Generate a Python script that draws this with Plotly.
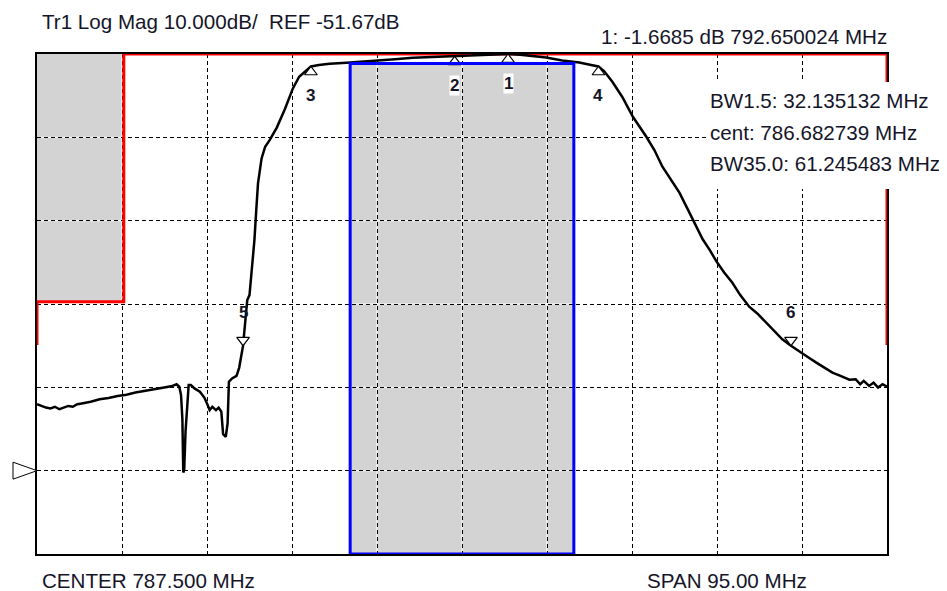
import plotly.graph_objects as go

# ---------------- instrument settings ----------------
center_mhz = 787.5
span_mhz = 95.0
ref_db = -51.67
scale_db = 10.0
n_xdiv = 10
n_ydiv = 6
ref_pos_div = 1  # reference level sits one division above the bottom

# ---------------- measured trace ----------------
freq_mhz = [
    740.0, 740.5, 741.0, 741.5, 742.0, 742.5, 743.0, 743.5, 744.0, 744.5,
    745.0, 746.0, 747.0, 748.0, 749.0, 750.0, 751.0, 752.0, 753.0, 754.0,
    755.0, 755.6, 755.9, 756.1, 756.25, 756.35, 756.45, 756.6, 756.8, 756.95,
    757.2, 757.6, 758.2, 758.7, 759.0, 759.3, 759.6, 760.0, 760.3, 760.6,
    760.8, 761.1, 761.3, 761.45, 761.8, 762.3, 762.6, 762.85, 763.03, 763.3,
    763.5, 763.75, 764.0, 764.3, 764.5, 764.7, 765.1, 765.5, 766.0, 766.8,
    767.7, 768.6, 769.3, 770.0, 770.615, 771.5, 772.7, 774.6, 776.5, 778.3,
    780.0, 782.0, 784.0, 785.8, 788.0, 790.0, 792.65, 794.0, 795.4, 796.9,
    798.7, 800.6, 801.8, 802.75, 803.4, 804.3, 805.4, 806.6, 808.1, 809.0,
    809.9, 810.8, 811.8, 812.5, 813.3, 814.4, 815.2, 815.9, 816.8, 817.7,
    818.6, 819.6, 820.5, 821.5, 822.4, 823.3, 824.27, 825.2, 826.1, 827.1,
    828.0, 828.9, 829.8, 830.8, 831.5, 832.0, 832.4, 833.0, 833.5, 834.0,
    834.5, 835.0,
]
mag_db = [
    -43.7, -43.9, -44.1, -44.2, -44.0, -44.3, -44.1, -43.9, -44.0, -43.7,
    -43.6, -43.4, -43.1, -42.95, -42.7, -42.55, -42.3, -42.1, -41.9, -41.75,
    -41.55, -41.3, -41.6, -42.6, -45.5, -51.9, -51.6, -47.0, -44.0, -41.4,
    -41.4, -41.8, -42.2, -42.9, -43.6, -44.4, -44.0, -44.4, -44.1, -44.6,
    -47.3, -47.6, -46.0, -41.0, -40.6, -40.3, -39.3, -37.5, -36.67, -33.5,
    -31.2, -30.6, -27.6, -24.0, -20.5, -17.2, -14.2, -12.8, -12.0, -10.5,
    -8.3, -5.8, -4.4, -3.7, -3.17, -3.0, -2.85, -2.72, -2.6, -2.47,
    -2.3, -2.12, -2.05, -1.98, -1.9, -1.8, -1.67, -1.75, -1.95, -2.1,
    -2.45, -2.7, -2.95, -3.17, -3.75, -5.0, -6.8, -9.2, -11.6, -13.2,
    -15.2, -16.7, -18.3, -19.8, -21.5, -23.9, -25.2, -26.5, -27.9, -29.1,
    -30.6, -32.0, -32.8, -33.9, -35.0, -35.9, -36.67, -37.4, -38.0, -38.7,
    -39.3, -39.9, -40.3, -40.75, -40.7, -41.3, -40.9, -41.5, -41.1, -41.7,
    -41.3, -41.6,
]

# ---------------- markers ----------------
marker_ids = ["1", "2", "3", "4", "5", "6"]
marker_freq = [792.650024, 786.682739, 770.615173, 802.750305, 763.03, 824.27]
marker_db = [-1.6685, -1.96, -3.17, -3.17, -36.67, -36.67]
marker_below = [True, True, True, True, False, False]

# ---------------- limit / mask ----------------
limit_freq = [740.0, 740.0, 749.7, 749.7, 835.0, 835.0]
limit_db = [-36.6, -31.4, -31.4, -1.67, -1.67, -36.6]
stop_mask_freq = [740.0, 749.7]
stop_mask_db = -31.4
pass_freq = [775.0, 800.0]
pass_min_db = -2.8

# ---------------- texts ----------------
title_text = "Tr1 Log Mag 10.000dB/\u00a0 REF -51.67dB"
marker_readout = "1: -1.6685 dB 792.650024 MHz"
stats_lines = ["BW1.5: 32.135132 MHz", "cent: 786.682739 MHz", "BW35.0: 61.245483 MHz"]
center_text = "CENTER 787.500 MHz"
span_text = "SPAN 95.00 MHz"

# ---------------- derived axes ----------------
f_start = center_mhz - span_mhz / 2
f_stop = center_mhz + span_mhz / 2
y_bottom = ref_db - ref_pos_div * scale_db
y_top = y_bottom + n_ydiv * scale_db
xgrid = [f_start + i * span_mhz / n_xdiv for i in range(n_xdiv + 1)]
ygrid = [y_bottom + i * scale_db for i in range(n_ydiv + 1)]

# page offset (body margin) compensation
OFF = 8
W, H = 947 - OFF, 591
ML, MT = 37 - OFF, 54 - OFF
PW, PH = 850, 500
MR, MB = W - ML - PW, H - MT - PH
db_per_px = (y_top - y_bottom) / PH

FONT = "Liberation Sans, Arial, sans-serif"
TXT = "#15152a"
FS = 20.6

fig = go.Figure()

# limit line
fig.add_trace(go.Scatter(x=limit_freq, y=limit_db, mode="lines",
                         line=dict(color="#ff0000", width=3), hoverinfo="skip"))
# measurement trace
fig.add_trace(go.Scatter(x=freq_mhz, y=mag_db, mode="lines",
                         line=dict(color="black", width=2.5), hoverinfo="skip"))

# marker triangles
msize = 11
r_db = msize / 2 * db_per_px
up_x = [f for f, b in zip(marker_freq, marker_below) if b]
up_y = [min(d, y_top) - r_db for d, b in zip(marker_db, marker_below) if b]
dn_x = [f for f, b in zip(marker_freq, marker_below) if not b]
dn_y = [d + r_db for d, b in zip(marker_db, marker_below) if not b]
fig.add_trace(go.Scatter(x=up_x, y=up_y, mode="markers", cliponaxis=False,
                         marker=dict(symbol="triangle-up", size=msize, color="white",
                                     line=dict(color="black", width=1.2)), hoverinfo="skip"))
fig.add_trace(go.Scatter(x=dn_x, y=dn_y, mode="markers", cliponaxis=False,
                         marker=dict(symbol="triangle-down", size=msize, color="white",
                                     line=dict(color="black", width=1.2)), hoverinfo="skip"))

shapes = []
# grey mask regions (below grid)
shapes.append(dict(type="rect", xref="x", yref="y", x0=stop_mask_freq[0], x1=stop_mask_freq[1],
                   y0=stop_mask_db, y1=y_top, fillcolor="#d3d3d3", line=dict(width=0), layer="below"))
shapes.append(dict(type="rect", xref="x", yref="y", x0=pass_freq[0], x1=pass_freq[1],
                   y0=y_bottom, y1=pass_min_db, fillcolor="#d3d3d3", line=dict(width=0), layer="below"))
# white under-lines so dashed grid shows white gaps on grey
for xv in xgrid[1:-1]:
    shapes.append(dict(type="line", xref="x", yref="y", x0=xv, x1=xv, y0=y_bottom, y1=y_top,
                       line=dict(color="white", width=1), layer="below"))
for yv in ygrid[1:-1]:
    shapes.append(dict(type="line", xref="x", yref="y", x0=f_start, x1=f_stop, y0=yv, y1=yv,
                       line=dict(color="white", width=1), layer="below"))
# blue pass-band box
shapes.append(dict(type="rect", xref="x", yref="y", x0=pass_freq[0], x1=pass_freq[1],
                   y0=y_bottom, y1=pass_min_db, line=dict(color="#0000ff", width=3),
                   fillcolor="rgba(0,0,0,0)", layer="above"))


def pap(px, py):
    """reference-image pixel -> paper coords"""
    return (px - OFF - ML) / PW, (PH + MT - (py - OFF)) / PH


# white box behind the statistics
bx0, by0 = pap(708, 189)
bx1, by1 = pap(947, 82)
shapes.append(dict(type="rect", xref="paper", yref="paper", x0=bx0, x1=bx1 + 0.05, y0=by0, y1=by1,
                   fillcolor="white", line=dict(width=0), layer="above"))
# reference level pointer
yp = (ref_db - y_bottom) / (y_top - y_bottom)
dx, dy = 24 / PW, 8.5 / PH
shapes.append(dict(type="path", xref="paper", yref="paper",
                   path=f"M {-dx},{yp + dy} L 0,{yp} L {-dx},{yp - dy} Z",
                   line=dict(color="black", width=1), fillcolor="white", layer="above"))

annotations = []


def add_text(text, px, py, anchor):
    ax_, ay_ = pap(px, py)
    annotations.append(dict(text=text, xref="paper", yref="paper", x=ax_, y=ay_,
                            xanchor=anchor, yanchor="middle", showarrow=False,
                            font=dict(family=FONT, size=FS, color=TXT)))


add_text(title_text, 40, 22, "left")
add_text(marker_readout, 889, 37, "right")
for i, line in enumerate(stats_lines):
    add_text(line, 708, 101 + i * 31, "left")
add_text(center_text, 40, 580, "left")
add_text(span_text, 645, 580, "left")

# marker number labels
for mid, f, d, below in zip(marker_ids, marker_freq, marker_db, marker_below):
    annotations.append(dict(text=f"<b>{mid}</b>", x=f, y=min(d, y_top), xref="x", yref="y",
                            yshift=-29 if below else 33, showarrow=False,
                            bgcolor="white" if below else "rgba(0,0,0,0)", borderpad=0,
                            font=dict(family=FONT, size=17, color=TXT)))

fig.update_layout(
    width=W, height=H,
    margin=dict(l=ML, r=MR, t=MT, b=MB, pad=0),
    paper_bgcolor="white", plot_bgcolor="white",
    showlegend=False,
    shapes=shapes, annotations=annotations,
    xaxis=dict(range=[f_start, f_stop], tickvals=xgrid, showticklabels=False, ticks="",
               showgrid=True, gridcolor="black", gridwidth=1, griddash="4px,3px",
               zeroline=False, showline=True, linecolor="black", linewidth=1.5, mirror=True,
               fixedrange=True),
    yaxis=dict(range=[y_bottom, y_top], tickvals=ygrid, showticklabels=False, ticks="",
               showgrid=True, gridcolor="black", gridwidth=1, griddash="4px,3px",
               zeroline=False, showline=True, linecolor="black", linewidth=1.5, mirror=True,
               fixedrange=True),
)

fig.write_html("out.html")
